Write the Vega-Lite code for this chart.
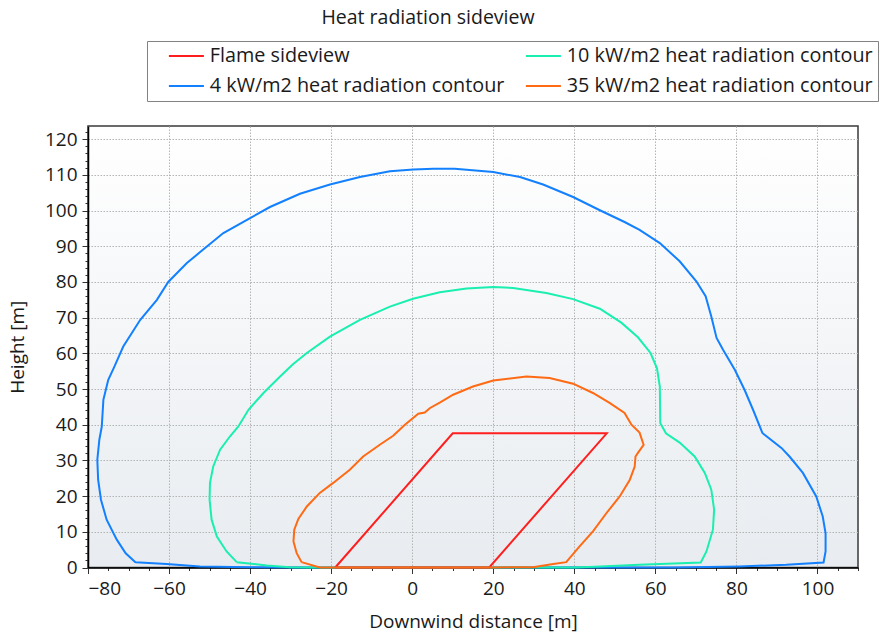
{
  "$schema": "https://vega.github.io/schema/vega-lite/v6.json",
  "autosize": {"type": "none"},
  "padding": {"left": 88, "top": 126, "right": 22, "bottom": 65},
  "width": 770,
  "height": 441.5,
  "background": "white",
  "title": {"text": "Heat radiation sideview", "anchor": "middle", "frame": "group", "dx": -45, "offset": 12, "font": "Open Sans", "fontSize": 19.5, "fontWeight": "normal", "color": "#1a1a1a"},
  "config": {
    "font": "Open Sans",
    "view": {"stroke": "#3a3a3a", "strokeWidth": 1.5, "fill": {"gradient": "linear", "x1": 0, "y1": 0, "x2": 0, "y2": 1, "stops": [{"offset": 0, "color": "#ffffff"}, {"offset": 1, "color": "#e8ecf0"}]}},
    "axis": {"labelFont": "Open Sans", "labelFontSize": 19, "labelColor": "#1a1a1a", "titleFont": "Open Sans", "titleFontSize": 19, "titleFontWeight": "normal", "titleColor": "#1a1a1a", "domainColor": "#000000", "domainWidth": 1.5, "tickColor": "#333333", "gridColor": "#b4b4b4", "gridDash": [1.5, 1.5], "gridWidth": 1},
    "legend": {"orient": "none", "legendX": 59, "legendY": -85, "columns": 2, "fillColor": "white", "strokeColor": "#828282", "padding": 5, "symbolType": "M-2.06,0H2.06", "symbolSize": 289, "symbolStrokeWidth": 2, "symbolOffset": 24.5, "labelFont": "Open Sans", "labelFontSize": 19.8, "labelColor": "#1a1a1a", "rowPadding": 9, "columnPadding": 4, "labelLimit": 0, "labelOffset": 13.5}
  },
  "data": {"values": [
    {"s": "4 kW/m2 heat radiation contour", "i": 0, "x": -68.3, "y": 1.5},
    {"s": "4 kW/m2 heat radiation contour", "i": 1, "x": -70.7, "y": 4.0},
    {"s": "4 kW/m2 heat radiation contour", "i": 2, "x": -72.9, "y": 7.8},
    {"s": "4 kW/m2 heat radiation contour", "i": 3, "x": -75.4, "y": 13.4},
    {"s": "4 kW/m2 heat radiation contour", "i": 4, "x": -76.8, "y": 19.0},
    {"s": "4 kW/m2 heat radiation contour", "i": 5, "x": -77.5, "y": 24.6},
    {"s": "4 kW/m2 heat radiation contour", "i": 6, "x": -77.7, "y": 30.2},
    {"s": "4 kW/m2 heat radiation contour", "i": 7, "x": -77.2, "y": 35.8},
    {"s": "4 kW/m2 heat radiation contour", "i": 8, "x": -76.6, "y": 39.5},
    {"s": "4 kW/m2 heat radiation contour", "i": 9, "x": -76.2, "y": 47.0},
    {"s": "4 kW/m2 heat radiation contour", "i": 10, "x": -75.0, "y": 52.6},
    {"s": "4 kW/m2 heat radiation contour", "i": 11, "x": -73.6, "y": 56.0},
    {"s": "4 kW/m2 heat radiation contour", "i": 12, "x": -71.3, "y": 61.9},
    {"s": "4 kW/m2 heat radiation contour", "i": 13, "x": -67.1, "y": 69.4},
    {"s": "4 kW/m2 heat radiation contour", "i": 14, "x": -63.0, "y": 75.0},
    {"s": "4 kW/m2 heat radiation contour", "i": 15, "x": -60.2, "y": 80.0},
    {"s": "4 kW/m2 heat radiation contour", "i": 16, "x": -55.6, "y": 85.3},
    {"s": "4 kW/m2 heat radiation contour", "i": 17, "x": -52.4, "y": 88.3},
    {"s": "4 kW/m2 heat radiation contour", "i": 18, "x": -46.6, "y": 93.7},
    {"s": "4 kW/m2 heat radiation contour", "i": 19, "x": -40.0, "y": 97.9},
    {"s": "4 kW/m2 heat radiation contour", "i": 20, "x": -35.1, "y": 101.0},
    {"s": "4 kW/m2 heat radiation contour", "i": 21, "x": -27.7, "y": 104.7},
    {"s": "4 kW/m2 heat radiation contour", "i": 22, "x": -20.3, "y": 107.3},
    {"s": "4 kW/m2 heat radiation contour", "i": 23, "x": -12.9, "y": 109.4},
    {"s": "4 kW/m2 heat radiation contour", "i": 24, "x": -5.5, "y": 111.0},
    {"s": "4 kW/m2 heat radiation contour", "i": 25, "x": 0.3, "y": 111.5},
    {"s": "4 kW/m2 heat radiation contour", "i": 26, "x": 5.2, "y": 111.7},
    {"s": "4 kW/m2 heat radiation contour", "i": 27, "x": 10.5, "y": 111.7},
    {"s": "4 kW/m2 heat radiation contour", "i": 28, "x": 20.0, "y": 110.8},
    {"s": "4 kW/m2 heat radiation contour", "i": 29, "x": 26.6, "y": 109.4},
    {"s": "4 kW/m2 heat radiation contour", "i": 30, "x": 32.3, "y": 107.3},
    {"s": "4 kW/m2 heat radiation contour", "i": 31, "x": 39.7, "y": 103.8},
    {"s": "4 kW/m2 heat radiation contour", "i": 32, "x": 46.3, "y": 100.1},
    {"s": "4 kW/m2 heat radiation contour", "i": 33, "x": 52.4, "y": 96.8},
    {"s": "4 kW/m2 heat radiation contour", "i": 34, "x": 56.1, "y": 94.6},
    {"s": "4 kW/m2 heat radiation contour", "i": 35, "x": 61.1, "y": 90.9},
    {"s": "4 kW/m2 heat radiation contour", "i": 36, "x": 66.0, "y": 85.8},
    {"s": "4 kW/m2 heat radiation contour", "i": 37, "x": 70.1, "y": 80.2},
    {"s": "4 kW/m2 heat radiation contour", "i": 38, "x": 72.4, "y": 76.0},
    {"s": "4 kW/m2 heat radiation contour", "i": 39, "x": 73.8, "y": 70.3},
    {"s": "4 kW/m2 heat radiation contour", "i": 40, "x": 75.1, "y": 64.3},
    {"s": "4 kW/m2 heat radiation contour", "i": 41, "x": 76.7, "y": 61.0},
    {"s": "4 kW/m2 heat radiation contour", "i": 42, "x": 79.6, "y": 55.4},
    {"s": "4 kW/m2 heat radiation contour", "i": 43, "x": 82.0, "y": 49.8},
    {"s": "4 kW/m2 heat radiation contour", "i": 44, "x": 84.1, "y": 44.2},
    {"s": "4 kW/m2 heat radiation contour", "i": 45, "x": 86.4, "y": 37.7},
    {"s": "4 kW/m2 heat radiation contour", "i": 46, "x": 91.1, "y": 33.5},
    {"s": "4 kW/m2 heat radiation contour", "i": 47, "x": 93.1, "y": 31.1},
    {"s": "4 kW/m2 heat radiation contour", "i": 48, "x": 96.4, "y": 26.5},
    {"s": "4 kW/m2 heat radiation contour", "i": 49, "x": 99.7, "y": 19.9},
    {"s": "4 kW/m2 heat radiation contour", "i": 50, "x": 101.3, "y": 14.3},
    {"s": "4 kW/m2 heat radiation contour", "i": 51, "x": 102.0, "y": 9.6},
    {"s": "4 kW/m2 heat radiation contour", "i": 52, "x": 102.0, "y": 4.5},
    {"s": "4 kW/m2 heat radiation contour", "i": 53, "x": 101.5, "y": 1.4},
    {"s": "4 kW/m2 heat radiation contour", "i": 54, "x": 92.3, "y": 0.75},
    {"s": "4 kW/m2 heat radiation contour", "i": 55, "x": 80.7, "y": 0.3},
    {"s": "4 kW/m2 heat radiation contour", "i": 56, "x": 65.0, "y": 0.0},
    {"s": "4 kW/m2 heat radiation contour", "i": 57, "x": -30.0, "y": 0.0},
    {"s": "4 kW/m2 heat radiation contour", "i": 58, "x": -40.0, "y": 0.1},
    {"s": "4 kW/m2 heat radiation contour", "i": 59, "x": -52.4, "y": 0.3},
    {"s": "4 kW/m2 heat radiation contour", "i": 60, "x": -60.6, "y": 0.95},
    {"s": "4 kW/m2 heat radiation contour", "i": 61, "x": -68.3, "y": 1.5},
    {"s": "10 kW/m2 heat radiation contour", "i": 0, "x": -43.3, "y": 1.5},
    {"s": "10 kW/m2 heat radiation contour", "i": 1, "x": -45.8, "y": 4.5},
    {"s": "10 kW/m2 heat radiation contour", "i": 2, "x": -48.2, "y": 8.7},
    {"s": "10 kW/m2 heat radiation contour", "i": 3, "x": -49.5, "y": 13.4},
    {"s": "10 kW/m2 heat radiation contour", "i": 4, "x": -50.0, "y": 19.0},
    {"s": "10 kW/m2 heat radiation contour", "i": 5, "x": -49.9, "y": 23.7},
    {"s": "10 kW/m2 heat radiation contour", "i": 6, "x": -49.1, "y": 28.3},
    {"s": "10 kW/m2 heat radiation contour", "i": 7, "x": -47.4, "y": 33.0},
    {"s": "10 kW/m2 heat radiation contour", "i": 8, "x": -45.0, "y": 36.7},
    {"s": "10 kW/m2 heat radiation contour", "i": 9, "x": -42.9, "y": 39.5},
    {"s": "10 kW/m2 heat radiation contour", "i": 10, "x": -40.4, "y": 44.2},
    {"s": "10 kW/m2 heat radiation contour", "i": 11, "x": -36.7, "y": 48.9},
    {"s": "10 kW/m2 heat radiation contour", "i": 12, "x": -32.6, "y": 53.5},
    {"s": "10 kW/m2 heat radiation contour", "i": 13, "x": -29.5, "y": 56.9},
    {"s": "10 kW/m2 heat radiation contour", "i": 14, "x": -26.0, "y": 60.1},
    {"s": "10 kW/m2 heat radiation contour", "i": 15, "x": -20.3, "y": 64.7},
    {"s": "10 kW/m2 heat radiation contour", "i": 16, "x": -12.9, "y": 69.4},
    {"s": "10 kW/m2 heat radiation contour", "i": 17, "x": -5.5, "y": 73.1},
    {"s": "10 kW/m2 heat radiation contour", "i": 18, "x": 0.2, "y": 75.3},
    {"s": "10 kW/m2 heat radiation contour", "i": 19, "x": 6.8, "y": 77.1},
    {"s": "10 kW/m2 heat radiation contour", "i": 20, "x": 13.4, "y": 78.2},
    {"s": "10 kW/m2 heat radiation contour", "i": 21, "x": 20.0, "y": 78.6},
    {"s": "10 kW/m2 heat radiation contour", "i": 22, "x": 24.9, "y": 78.3},
    {"s": "10 kW/m2 heat radiation contour", "i": 23, "x": 33.1, "y": 76.9},
    {"s": "10 kW/m2 heat radiation contour", "i": 24, "x": 39.7, "y": 75.2},
    {"s": "10 kW/m2 heat radiation contour", "i": 25, "x": 46.3, "y": 72.5},
    {"s": "10 kW/m2 heat radiation contour", "i": 26, "x": 51.6, "y": 68.6},
    {"s": "10 kW/m2 heat radiation contour", "i": 27, "x": 55.7, "y": 64.5},
    {"s": "10 kW/m2 heat radiation contour", "i": 28, "x": 58.8, "y": 60.1},
    {"s": "10 kW/m2 heat radiation contour", "i": 29, "x": 60.4, "y": 55.8},
    {"s": "10 kW/m2 heat radiation contour", "i": 30, "x": 61.1, "y": 50.7},
    {"s": "10 kW/m2 heat radiation contour", "i": 31, "x": 61.2, "y": 40.5},
    {"s": "10 kW/m2 heat radiation contour", "i": 32, "x": 62.6, "y": 37.6},
    {"s": "10 kW/m2 heat radiation contour", "i": 33, "x": 66.0, "y": 35.0},
    {"s": "10 kW/m2 heat radiation contour", "i": 34, "x": 69.7, "y": 31.1},
    {"s": "10 kW/m2 heat radiation contour", "i": 35, "x": 72.2, "y": 26.5},
    {"s": "10 kW/m2 heat radiation contour", "i": 36, "x": 73.8, "y": 21.8},
    {"s": "10 kW/m2 heat radiation contour", "i": 37, "x": 74.5, "y": 16.2},
    {"s": "10 kW/m2 heat radiation contour", "i": 38, "x": 74.2, "y": 10.6},
    {"s": "10 kW/m2 heat radiation contour", "i": 39, "x": 72.6, "y": 4.5},
    {"s": "10 kW/m2 heat radiation contour", "i": 40, "x": 71.2, "y": 1.4},
    {"s": "10 kW/m2 heat radiation contour", "i": 41, "x": 56.1, "y": 0.75},
    {"s": "10 kW/m2 heat radiation contour", "i": 42, "x": 45.0, "y": 0.2},
    {"s": "10 kW/m2 heat radiation contour", "i": 43, "x": 40.0, "y": 0.0},
    {"s": "10 kW/m2 heat radiation contour", "i": 44, "x": -25.0, "y": 0.0},
    {"s": "10 kW/m2 heat radiation contour", "i": 45, "x": -30.2, "y": 0.1},
    {"s": "10 kW/m2 heat radiation contour", "i": 46, "x": -35.9, "y": 0.56},
    {"s": "10 kW/m2 heat radiation contour", "i": 47, "x": -43.3, "y": 1.5},
    {"s": "Flame sideview", "i": 0, "x": -19.0, "y": 0.0},
    {"s": "Flame sideview", "i": 1, "x": 10.0, "y": 37.6},
    {"s": "Flame sideview", "i": 2, "x": 48.0, "y": 37.6},
    {"s": "Flame sideview", "i": 3, "x": 19.0, "y": 0.0},
    {"s": "Flame sideview", "i": 4, "x": -19.0, "y": 0.0},
    {"s": "35 kW/m2 heat radiation contour", "i": 0, "x": -27.3, "y": 1.5},
    {"s": "35 kW/m2 heat radiation contour", "i": 1, "x": -28.5, "y": 4.0},
    {"s": "35 kW/m2 heat radiation contour", "i": 2, "x": -29.3, "y": 7.3},
    {"s": "35 kW/m2 heat radiation contour", "i": 3, "x": -29.1, "y": 10.6},
    {"s": "35 kW/m2 heat radiation contour", "i": 4, "x": -28.1, "y": 13.6},
    {"s": "35 kW/m2 heat radiation contour", "i": 5, "x": -26.0, "y": 17.1},
    {"s": "35 kW/m2 heat radiation contour", "i": 6, "x": -22.8, "y": 20.9},
    {"s": "35 kW/m2 heat radiation contour", "i": 7, "x": -19.5, "y": 23.7},
    {"s": "35 kW/m2 heat radiation contour", "i": 8, "x": -15.4, "y": 27.4},
    {"s": "35 kW/m2 heat radiation contour", "i": 9, "x": -12.1, "y": 31.1},
    {"s": "35 kW/m2 heat radiation contour", "i": 10, "x": -8.0, "y": 34.4},
    {"s": "35 kW/m2 heat radiation contour", "i": 11, "x": -4.7, "y": 36.9},
    {"s": "35 kW/m2 heat radiation contour", "i": 12, "x": -1.8, "y": 40.0},
    {"s": "35 kW/m2 heat radiation contour", "i": 13, "x": 1.5, "y": 43.1},
    {"s": "35 kW/m2 heat radiation contour", "i": 14, "x": 3.1, "y": 43.4},
    {"s": "35 kW/m2 heat radiation contour", "i": 15, "x": 4.4, "y": 44.7},
    {"s": "35 kW/m2 heat radiation contour", "i": 16, "x": 6.8, "y": 46.2},
    {"s": "35 kW/m2 heat radiation contour", "i": 17, "x": 10.1, "y": 48.4},
    {"s": "35 kW/m2 heat radiation contour", "i": 18, "x": 15.0, "y": 50.7},
    {"s": "35 kW/m2 heat radiation contour", "i": 19, "x": 20.0, "y": 52.4},
    {"s": "35 kW/m2 heat radiation contour", "i": 20, "x": 28.2, "y": 53.5},
    {"s": "35 kW/m2 heat radiation contour", "i": 21, "x": 33.9, "y": 53.1},
    {"s": "35 kW/m2 heat radiation contour", "i": 22, "x": 39.7, "y": 51.5},
    {"s": "35 kW/m2 heat radiation contour", "i": 23, "x": 44.6, "y": 48.9},
    {"s": "35 kW/m2 heat radiation contour", "i": 24, "x": 48.7, "y": 46.1},
    {"s": "35 kW/m2 heat radiation contour", "i": 25, "x": 52.4, "y": 43.3},
    {"s": "35 kW/m2 heat radiation contour", "i": 26, "x": 54.1, "y": 40.0},
    {"s": "35 kW/m2 heat radiation contour", "i": 27, "x": 56.1, "y": 37.8},
    {"s": "35 kW/m2 heat radiation contour", "i": 28, "x": 57.1, "y": 34.4},
    {"s": "35 kW/m2 heat radiation contour", "i": 29, "x": 55.7, "y": 32.1},
    {"s": "35 kW/m2 heat radiation contour", "i": 30, "x": 55.1, "y": 31.1},
    {"s": "35 kW/m2 heat radiation contour", "i": 31, "x": 54.9, "y": 28.3},
    {"s": "35 kW/m2 heat radiation contour", "i": 32, "x": 53.7, "y": 24.6},
    {"s": "35 kW/m2 heat radiation contour", "i": 33, "x": 51.2, "y": 19.9},
    {"s": "35 kW/m2 heat radiation contour", "i": 34, "x": 47.9, "y": 15.2},
    {"s": "35 kW/m2 heat radiation contour", "i": 35, "x": 44.6, "y": 10.1},
    {"s": "35 kW/m2 heat radiation contour", "i": 36, "x": 41.3, "y": 5.9},
    {"s": "35 kW/m2 heat radiation contour", "i": 37, "x": 38.0, "y": 1.5},
    {"s": "35 kW/m2 heat radiation contour", "i": 38, "x": 34.8, "y": 1.0},
    {"s": "35 kW/m2 heat radiation contour", "i": 39, "x": 29.8, "y": 0.1},
    {"s": "35 kW/m2 heat radiation contour", "i": 40, "x": 20.0, "y": 0.0},
    {"s": "35 kW/m2 heat radiation contour", "i": 41, "x": -22.8, "y": 0.0},
    {"s": "35 kW/m2 heat radiation contour", "i": 42, "x": -27.3, "y": 1.5}
  ]},
  "encoding": {
    "x": {"field": "x", "type": "quantitative", "title": "Downwind distance [m]",
      "scale": {"domain": [-80, 110], "nice": false, "zero": false},
      "axis": {"values": [-80,-75,-70,-65,-60,-55,-50,-45,-40,-35,-30,-25,-20,-15,-10,-5,0,5,10,15,20,25,30,35,40,45,50,55,60,65,70,75,80,85,90,95,100,105,110],
        "labelExpr": "datum.value % 20 === 0 ? datum.label : ''", "labelPadding": 6, "titlePadding": 14,
        "tickSize": {"condition": {"test": "datum.value % 20 === 0", "value": 6}, "value": 3},
        "gridOpacity": {"condition": {"test": "datum.value % 20 === 0", "value": 1}, "value": 0}}},
    "y": {"field": "y", "type": "quantitative", "title": "Height [m]",
      "scale": {"domain": [0, 123.7], "nice": false, "zero": false},
      "axis": {"values": [0,2,4,6,8,10,12,14,16,18,20,22,24,26,28,30,32,34,36,38,40,42,44,46,48,50,52,54,56,58,60,62,64,66,68,70,72,74,76,78,80,82,84,86,88,90,92,94,96,98,100,102,104,106,108,110,112,114,116,118,120,122],
        "labelExpr": "datum.value % 10 === 0 ? datum.label : ''", "labelPadding": 5, "titlePadding": 17,
        "tickSize": {"condition": {"test": "datum.value % 10 === 0", "value": 6}, "value": 3},
        "gridOpacity": {"condition": {"test": "datum.value % 10 === 0", "value": 1}, "value": 0}}},
    "order": {"field": "i", "type": "quantitative"},
    "color": {"field": "s", "type": "nominal", "title": null,
      "scale": {"domain": ["Flame sideview", "4 kW/m2 heat radiation contour", "10 kW/m2 heat radiation contour", "35 kW/m2 heat radiation contour"],
        "range": ["#ff1e1e", "#1280ff", "#19efb0", "#ff6a14"]}}
  },
  "layer": [
    {"transform": [{"filter": "datum.s === '4 kW/m2 heat radiation contour'"}], "mark": {"type": "line", "strokeWidth": 2}},
    {"transform": [{"filter": "datum.s === '10 kW/m2 heat radiation contour'"}], "mark": {"type": "line", "strokeWidth": 2}},
    {"transform": [{"filter": "datum.s === 'Flame sideview'"}], "mark": {"type": "line", "strokeWidth": 2}},
    {"transform": [{"filter": "datum.s === '35 kW/m2 heat radiation contour'"}], "mark": {"type": "line", "strokeWidth": 2}}
  ]
}
